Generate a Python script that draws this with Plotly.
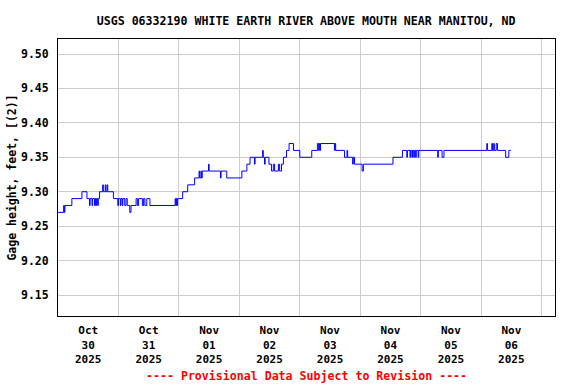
import plotly.graph_objects as go

TITLE = "USGS 06332190 WHITE EARTH RIVER ABOVE MOUTH NEAR MANITOU, ND"
Y_TITLE = "Gage height, feet, [(2)]"
FOOTER = "---- Provisional Data Subject to Revision ----"

# step breakpoints (time, gage height ft)
times = [
    "2025-10-30 00:00", "2025-10-30 02:15", "2025-10-30 02:30", "2025-10-30 02:45",
    "2025-10-30 05:30", "2025-10-30 09:30", "2025-10-30 11:30", "2025-10-30 12:30",
    "2025-10-30 12:45", "2025-10-30 13:30", "2025-10-30 13:45", "2025-10-30 14:30",
    "2025-10-30 14:45", "2025-10-30 15:00", "2025-10-30 15:15", "2025-10-30 15:45",
    "2025-10-30 16:00", "2025-10-30 16:30", "2025-10-30 17:45", "2025-10-30 18:00",
    "2025-10-30 18:45", "2025-10-30 19:00", "2025-10-30 19:30", "2025-10-30 19:45",
    "2025-10-30 22:00", "2025-10-30 23:45",
    "2025-10-31 00:00", "2025-10-31 00:45", "2025-10-31 01:00", "2025-10-31 01:30",
    "2025-10-31 01:45", "2025-10-31 02:30", "2025-10-31 03:00", "2025-10-31 03:30",
    "2025-10-31 04:30", "2025-10-31 05:00", "2025-10-31 07:00", "2025-10-31 07:30",
    "2025-10-31 08:00", "2025-10-31 09:30", "2025-10-31 10:00", "2025-10-31 10:30",
    "2025-10-31 11:15", "2025-10-31 12:30", "2025-10-31 22:30", "2025-10-31 22:45",
    "2025-10-31 23:00", "2025-10-31 23:15", "2025-10-31 23:30",
    "2025-11-01 01:30", "2025-11-01 03:30", "2025-11-01 06:15", "2025-11-01 08:00",
    "2025-11-01 08:15", "2025-11-01 08:45", "2025-11-01 09:00", "2025-11-01 09:15",
    "2025-11-01 11:45", "2025-11-01 12:00", "2025-11-01 16:30", "2025-11-01 16:45",
    "2025-11-01 19:00",
    "2025-11-02 01:00", "2025-11-02 03:00", "2025-11-02 04:15", "2025-11-02 06:00",
    "2025-11-02 06:15", "2025-11-02 09:15", "2025-11-02 09:30", "2025-11-02 10:00",
    "2025-11-02 10:15", "2025-11-02 11:45", "2025-11-02 12:45", "2025-11-02 13:30",
    "2025-11-02 14:00", "2025-11-02 15:30", "2025-11-02 16:00", "2025-11-02 16:45",
    "2025-11-02 17:30", "2025-11-02 18:45", "2025-11-02 19:45", "2025-11-02 21:30",
    "2025-11-03 00:00", "2025-11-03 04:45", "2025-11-03 07:00", "2025-11-03 07:30",
    "2025-11-03 07:45", "2025-11-03 08:00", "2025-11-03 08:15", "2025-11-03 13:45",
    "2025-11-03 14:00", "2025-11-03 14:15", "2025-11-03 17:45", "2025-11-03 18:45",
    "2025-11-03 19:00", "2025-11-03 21:00", "2025-11-03 21:15", "2025-11-03 21:45",
    "2025-11-04 00:45", "2025-11-04 01:15", "2025-11-04 13:00", "2025-11-04 16:45",
    "2025-11-04 18:30", "2025-11-04 18:45", "2025-11-04 19:45", "2025-11-04 20:00",
    "2025-11-04 20:30", "2025-11-04 20:45", "2025-11-04 21:15", "2025-11-04 21:30",
    "2025-11-04 22:00", "2025-11-04 22:15", "2025-11-04 23:00", "2025-11-04 23:15",
    "2025-11-05 06:45", "2025-11-05 07:00", "2025-11-05 08:30", "2025-11-05 09:15",
    "2025-11-06 02:15", "2025-11-06 02:30", "2025-11-06 04:15", "2025-11-06 04:30",
    "2025-11-06 05:00", "2025-11-06 05:15", "2025-11-06 06:00", "2025-11-06 06:30",
    "2025-11-06 09:45", "2025-11-06 11:00", "2025-11-06 11:45",
]
values = [
    9.27, 9.28, 9.27, 9.28,
    9.29, 9.30, 9.29, 9.28,
    9.29, 9.28, 9.29, 9.28,
    9.29, 9.28, 9.29, 9.28,
    9.29, 9.30, 9.31, 9.30,
    9.31, 9.30, 9.31, 9.30,
    9.29, 9.28,
    9.29, 9.28, 9.29, 9.28,
    9.29, 9.28, 9.29, 9.28,
    9.27, 9.28, 9.29, 9.28,
    9.29, 9.28, 9.29, 9.28,
    9.29, 9.28, 9.29, 9.28,
    9.29, 9.28, 9.29,
    9.30, 9.31, 9.32, 9.33,
    9.32, 9.33, 9.32, 9.33,
    9.34, 9.33, 9.32, 9.33,
    9.32,
    9.33, 9.34, 9.35, 9.34,
    9.35, 9.36, 9.35, 9.34,
    9.35, 9.34, 9.33, 9.34,
    9.33, 9.34, 9.33, 9.34,
    9.35, 9.36, 9.37, 9.36,
    9.35, 9.36, 9.37, 9.36,
    9.37, 9.36, 9.37, 9.36,
    9.37, 9.36, 9.35, 9.36,
    9.35, 9.34, 9.35, 9.34,
    9.33, 9.34, 9.35, 9.36,
    9.35, 9.36, 9.35, 9.36,
    9.35, 9.36, 9.35, 9.36,
    9.35, 9.36, 9.35, 9.36,
    9.35, 9.36, 9.35, 9.36,
    9.37, 9.36, 9.37, 9.36,
    9.37, 9.36, 9.37, 9.36,
    9.35, 9.36, 9.36,
]

x_tick_vals = ["2025-10-30 12:00", "2025-10-31 12:00", "2025-11-01 12:00", "2025-11-02 12:00",
               "2025-11-03 12:00", "2025-11-04 12:00", "2025-11-05 12:00", "2025-11-06 12:00"]
x_tick_text = ["Oct<br>30<br>2025", "Oct<br>31<br>2025", "Nov<br>01<br>2025", "Nov<br>02<br>2025",
               "Nov<br>03<br>2025", "Nov<br>04<br>2025", "Nov<br>05<br>2025", "Nov<br>06<br>2025"]
y_tick_vals = [9.15, 9.20, 9.25, 9.30, 9.35, 9.40, 9.45, 9.50]
x_range = ["2025-10-30 00:00", "2025-11-07 05:20"]
y_range = [9.1195, 9.5218]

FONT = "DejaVu Sans Mono"

fig = go.Figure()
fig.add_trace(go.Scatter(
    x=times, y=values, mode="lines", line=dict(color="#0000FF", width=1, shape="hv"),
    showlegend=False, hoverinfo="skip",
))

fig.update_layout(
    width=576, height=384,
    margin=dict(l=58, r=21, t=39, b=68, autoexpand=False),
    paper_bgcolor="white", plot_bgcolor="white",
    font=dict(family=FONT, size=12, color="black"),
    title=dict(text="<b>" + TITLE + "</b>", x=0.5315, xanchor="center", y=0.945, yanchor="middle",
               font=dict(family=FONT, size=11.6, color="black")),
)
fig.update_xaxes(
    type="date", range=x_range, automargin=False,
    tickmode="array", tickvals=x_tick_vals,
    ticktext=["<b>" + t.replace("<br>", "</b><br><b>") + "</b>" for t in x_tick_text],
    showgrid=False, ticks="", tickfont=dict(family=FONT, size=11, color="black"),
    ticklabelstandoff=4,
    showline=True, linecolor="black", linewidth=1, mirror=True,
    minor=dict(tickmode="linear", tick0="2025-10-30", dtick=86400000, showgrid=True,
               gridcolor="#cccccc", gridwidth=1, ticks=""),
    zeroline=False,
)
fig.update_yaxes(
    range=y_range, tickmode="array", tickvals=y_tick_vals, automargin=False,
    ticktext=["<b>%.2f</b>" % v for v in y_tick_vals],
    showgrid=True, gridcolor="#cccccc", gridwidth=1, ticks="",
    tickfont=dict(family=FONT, size=11.5, color="black"), ticklabelstandoff=6,
    showline=True, linecolor="black", linewidth=1, mirror=True, zeroline=False,
    title=dict(text="<b>" + Y_TITLE + "</b>", font=dict(family=FONT, size=11.5, color="black"), standoff=1),
)
fig.add_annotation(
    text="<b>" + FOOTER + "</b>", xref="paper", yref="paper", x=0.5, y=-0.215,
    xanchor="center", yanchor="middle", showarrow=False,
    font=dict(family=FONT, size=11.6, color="#FF0000"),
)
fig.write_html("out.html", config={"displayModeBar": False},
               post_script="document.body.style.margin='0';")
